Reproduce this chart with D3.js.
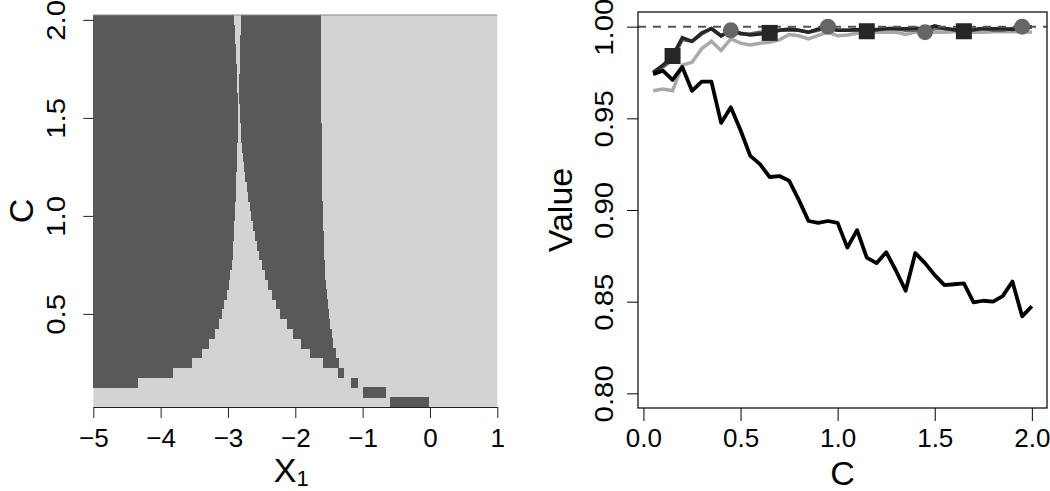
<!DOCTYPE html>
<html>
<head>
<meta charset="utf-8">
<title>Region map and value curves</title>
<script src="https://cdn.jsdelivr.net/npm/d3@7"></script>
<style>
  body { margin: 0; background: #fff; }
  text { font-family: "Liberation Sans", Arial, sans-serif; fill: #000; }
</style>
</head>
<body>
<script>
// ---- left panel: dark cells per row of C (intervals along X1) ----
var cRows = [0.05,0.10,0.15,0.20,0.25,0.30,0.35,0.40,0.45,0.50,0.55,0.60,0.65,0.70,0.75,0.80,0.85,0.90,0.95,1.00,
             1.05,1.10,1.15,1.20,1.25,1.30,1.35,1.40,1.45,1.50,1.55,1.60,1.65,1.70,1.75,1.80,1.85,1.90,1.95,2.00]
// right end of the left dark block (null = no block)
var leftEnd = [null,null,-4.33,-3.81,-3.54,-3.38,-3.28,-3.20,-3.14,-3.09,-3.06,-3.02,-2.99,-2.965,-2.945,-2.93,-2.92,-2.91,-2.905,-2.896,
               -2.89,-2.886,-2.88,-2.876,-2.87,-2.866,-2.86,-2.856,-2.85,-2.846,-2.848,-2.85,-2.86,-2.865,-2.872,-2.88,-2.888,-2.896,-2.90,-2.906]
// middle dark block
var midStart = [-0.59,-1.0,-1.175,-1.37,-1.59,-1.78,-1.92,-2.04,-2.13,-2.23,-2.28,-2.34,-2.40,-2.45,-2.50,-2.535,-2.57,-2.60,-2.63,-2.66,
                -2.68,-2.70,-2.72,-2.74,-2.755,-2.77,-2.785,-2.80,-2.81,-2.82,-2.825,-2.83,-2.83,-2.83,-2.825,-2.82,-2.82,-2.815,-2.812,-2.81]
var midEnd = [-0.02,-0.653,-1.073,-1.277,-1.35,-1.40,-1.435,-1.46,-1.485,-1.50,-1.52,-1.535,-1.545,-1.555,-1.56,-1.57,-1.575,-1.58,-1.585,-1.59,
              -1.595,-1.598,-1.60,-1.60,-1.605,-1.605,-1.61,-1.61,-1.61,-1.612,-1.614,-1.615,-1.616,-1.617,-1.618,-1.62,-1.62,-1.62,-1.62,-1.62]
var leftXTicks = [-5,-4,-3,-2,-1,0,1]
var leftYTicks = [0.5,1.0,1.5,2.0]

// ---- right panel: curves against C ----
var cVals = [0.05,0.10,0.15,0.20,0.25,0.30,0.35,0.40,0.45,0.50,0.55,0.60,0.65,0.70,0.75,0.80,0.85,0.90,0.95,1.00,
             1.05,1.10,1.15,1.20,1.25,1.30,1.35,1.40,1.45,1.50,1.55,1.60,1.65,1.70,1.75,1.80,1.85,1.90,1.95,2.00]
var blackSeries = [0.974,0.976,0.971,0.978,0.965,0.970,0.970,0.9475,0.956,0.9435,0.9295,0.925,0.918,0.9185,0.916,0.9055,0.894,0.893,0.894,0.893,
                   0.8795,0.889,0.874,0.871,0.877,0.867,0.856,0.8765,0.871,0.8645,0.859,0.8595,0.860,0.8496,0.8505,0.850,0.853,0.861,0.842,0.8475]
var darkSeries = [0.975,0.979,0.984,0.994,0.992,0.9966,0.999,0.995,0.998,0.9964,0.9955,0.996,0.9966,0.998,0.9987,0.998,0.997,0.9987,0.999,0.998,
                  0.998,0.9985,0.9975,0.9985,0.9988,0.999,0.9988,0.9992,0.9985,1.0005,0.999,0.9985,0.9975,0.9985,0.999,0.9988,0.999,0.9985,0.999,1.0]
var graySeries = [0.975,0.978,0.982,0.993,0.992,0.996,0.999,0.995,0.998,0.996,0.996,0.997,0.997,0.998,0.998,0.998,0.997,0.998,1.0,0.998,
                  0.998,0.998,0.998,0.998,0.999,0.999,0.998,0.998,0.997,0.999,0.999,0.998,0.998,0.998,0.999,0.998,0.998,0.999,1.0,1.0]
var lightSeries = [0.965,0.966,0.965,0.979,0.9806,0.988,0.992,0.987,0.9933,0.991,0.990,0.991,0.9915,0.9928,0.9957,0.995,0.9933,0.9953,0.997,0.995,
                   0.9955,0.9964,0.9966,0.997,0.997,0.997,0.9957,0.997,0.9973,0.997,0.997,0.9972,0.9972,0.997,0.997,0.9972,0.9972,0.9973,0.9972,0.997]
var squareAt = [0.15,0.65,1.15,1.65]
var circleAt = [0.45,0.95,1.45,1.95]
var refValue = 1.0
var rightXTicks = [0,0.5,1.0,1.5,2.0]
var rightYTicks = [0.80,0.85,0.90,0.95,1.00]

var W = 1050, H = 491
var svg = d3.select('body').append('svg').attr('width', W).attr('height', H)
svg.append('rect').attr('width', W).attr('height', H).attr('fill', '#fff')

// rotated tick labels in the reference are stretched along their length
var stretch = 'rotate(-90) scale(1.13,1)'

// ================= left panel =================
var xL = d3.scaleLinear().domain([-5, 1]).range([93.3, 497.3])
var yL = d3.scaleLinear().domain([0.025, 2.025]).range([407, 15])
var dark = '#595959', light = '#d3d3d3'

var left = svg.append('g')
left.append('rect')
    .attr('x', xL(-5)).attr('y', yL(2.025))
    .attr('width', xL(1) - xL(-5)).attr('height', yL(0.025) - yL(2.025))
    .attr('fill', light)

var cells = []
cRows.forEach(function (c, i) {
    if (leftEnd[i] !== null) cells.push({ c: c, x0: -5, x1: leftEnd[i] })
    cells.push({ c: c, x0: midStart[i], x1: midEnd[i] })
})
left.selectAll('rect.cell')
    .data(cells)
    .enter()
    .append('rect')
    .attr('class', 'cell')
    .attr('x', function (d) { return xL(d.x0) })
    .attr('y', function (d) { return yL(d.c + 0.025) })
    .attr('width', function (d) { return xL(d.x1) - xL(d.x0) })
    .attr('height', function (d) { return yL(d.c - 0.025) - yL(d.c + 0.025) + 0.3 })
    .attr('fill', dark)
    .attr('shape-rendering', 'crispEdges')

left.append('line')
    .attr('x1', xL(-5)).attr('x2', xL(1))
    .attr('y1', yL(2.025)).attr('y2', yL(2.025))
    .attr('stroke', '#8a8a8a').attr('stroke-width', 1)

// x axis
var lxAxis = left.append('g')
    .attr('transform', 'translate(0,' + yL(0.025) + ')')
    .call(d3.axisBottom(xL).tickValues(leftXTicks).tickSize(11).tickSizeOuter(0).tickFormat(d3.format('d')))
lxAxis.selectAll('text').attr('y', 40).attr('dy', 0).style('font-size', '26px')
lxAxis.selectAll('line, path').attr('stroke', '#222')

// y axis
var lyAxis = left.append('g')
    .attr('transform', 'translate(' + xL(-5) + ',0)')
    .call(d3.axisLeft(yL).tickValues(leftYTicks).tickSize(10).tickSizeOuter(0).tickFormat(d3.format('.1f')))
lyAxis.select('path').remove()
lyAxis.selectAll('line').attr('stroke', '#222')
lyAxis.selectAll('text')
    .attr('transform', stretch)
    .attr('x', 0).attr('y', -28).attr('dy', 0)
    .attr('text-anchor', 'middle')
    .style('font-size', '26px')

var lxLabel = svg.append('text')
    .attr('x', (xL(-5) + xL(1)) / 2 - 4).attr('y', 482)
    .attr('text-anchor', 'middle')
    .style('font-size', '34px')
lxLabel.append('tspan').text('X')
lxLabel.append('tspan').attr('dy', 4).style('font-size', '22px').text('1')

svg.append('text')
    .attr('transform', 'translate(33,' + (yL(0.025) + yL(2.025)) / 2 + ') rotate(-90)')
    .attr('text-anchor', 'middle')
    .style('font-size', '34px')
    .text('C')

// ================= right panel =================
var xR = d3.scaleLinear().domain([-0.028, 2.078]).range([638, 1047])
var yR = d3.scaleLinear().domain([0.792, 1.008]).range([408, 12])

var right = svg.append('g')

function series(vals) {
    return cVals.map(function (c, i) { return { c: c, v: vals[i] } })
}
var line = d3.line()
    .x(function (d) { return xR(d.c) })
    .y(function (d) { return yR(d.v) })

right.append('path').datum(series(lightSeries))
    .attr('d', line).attr('fill', 'none').attr('stroke', '#a9a9a9').attr('stroke-width', 3.5)
right.append('path').datum(series(graySeries))
    .attr('d', line).attr('fill', 'none').attr('stroke', '#666').attr('stroke-width', 3.5)
right.append('path').datum(series(darkSeries))
    .attr('d', line).attr('fill', 'none').attr('stroke', '#262626').attr('stroke-width', 3.5)
right.append('path').datum(series(blackSeries))
    .attr('d', line).attr('fill', 'none').attr('stroke', '#000').attr('stroke-width', 3.8)
    .attr('stroke-linejoin', 'round')

right.append('line')
    .attr('x1', xR(-0.028)).attr('x2', xR(2.078))
    .attr('y1', yR(refValue)).attr('y2', yR(refValue))
    .attr('stroke', '#555').attr('stroke-width', 2).attr('stroke-dasharray', '8,7')

function valueAt(vals, c) {
    return vals[cVals.findIndex(function (v) { return Math.abs(v - c) < 1e-9 })]
}
right.selectAll('rect.sq')
    .data(squareAt)
    .enter()
    .append('rect')
    .attr('class', 'sq')
    .attr('x', function (d) { return xR(d) - 8 })
    .attr('y', function (d) { return yR(valueAt(darkSeries, d)) - 8 })
    .attr('width', 16).attr('height', 16)
    .attr('fill', '#262626')
right.selectAll('circle.pt')
    .data(circleAt)
    .enter()
    .append('circle')
    .attr('class', 'pt')
    .attr('cx', function (d) { return xR(d) })
    .attr('cy', function (d) { return yR(valueAt(graySeries, d)) })
    .attr('r', 8)
    .attr('fill', '#666')

// box
right.append('rect')
    .attr('x', 638).attr('y', 12).attr('width', 1047 - 638).attr('height', 408 - 12)
    .attr('fill', 'none').attr('stroke', '#000').attr('stroke-width', 1.2)

var rxAxis = right.append('g')
    .attr('transform', 'translate(0,408)')
    .call(d3.axisBottom(xR).tickValues(rightXTicks).tickSize(13).tickSizeOuter(0).tickFormat(d3.format('.1f')))
rxAxis.select('path').remove()
rxAxis.selectAll('line').attr('stroke', '#000')
rxAxis.selectAll('text').attr('y', 39).attr('dy', 0).style('font-size', '26px')

var ryAxis = right.append('g')
    .attr('transform', 'translate(638,0)')
    .call(d3.axisLeft(yR).tickValues(rightYTicks).tickSize(11).tickSizeOuter(0).tickFormat(d3.format('.2f')))
ryAxis.select('path').remove()
ryAxis.selectAll('line').attr('stroke', '#000')
ryAxis.selectAll('text')
    .attr('transform', stretch)
    .attr('x', 0).attr('y', -25).attr('dy', 0)
    .attr('text-anchor', 'middle')
    .style('font-size', '26px')

svg.append('text')
    .attr('x', (638 + 1047) / 2).attr('y', 485)
    .attr('text-anchor', 'middle')
    .style('font-size', '34px')
    .text('C')

svg.append('text')
    .attr('transform', 'translate(572,' + (12 + 408) / 2 + ') rotate(-90)')
    .attr('text-anchor', 'middle')
    .style('font-size', '34px')
    .text('Value')
</script>
</body>
</html>
